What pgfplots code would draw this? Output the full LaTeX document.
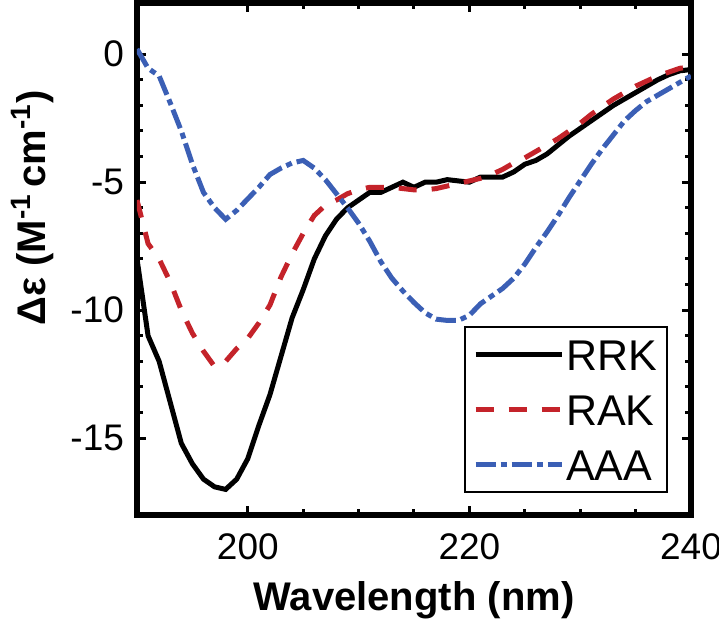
\documentclass[border=0pt]{standalone}
\usepackage{pgfplots}
\pgfplotsset{compat=1.18}
\usepackage{fontspec}
\setmainfont{Liberation Sans}
\definecolor{rakred}{HTML}{C4232A}
\definecolor{aaablue}{HTML}{3B5FB5}
\begin{document}
\begin{tikzpicture}
\begin{axis}[
    scale only axis,
    width=277pt, height=256pt,
    xmin=190, xmax=240,
    ymin=-18, ymax=2,
    xtick={200,220,240},
    ytick={-15,-10,-5,0},
    minor x tick num=3,
    minor y tick num=4,
    xtick pos=both, ytick pos=both,
    tick align=inside,
    major tick length=4.5pt,
    minor tick length=3pt,
    every tick/.style={black, line width=1.5pt},
    axis line style={line width=3pt},
    /pgf/number format/assume math mode=true,
    ticklabel style={font=\fontsize{18.5}{21}\selectfont},
    xticklabel style={yshift=-6pt},
    yticklabel style={xshift=-3pt},
    xlabel={\textbf{Wavelength (nm)}},
    ylabel={\textbf{Δε (M\textsuperscript{-1}\,cm\textsuperscript{-1})}},
    label style={font=\fontsize{20}{22}\selectfont},
    xlabel style={at={(axis description cs:0.5,-0.166)}, anchor=center},
    ylabel style={at={(axis description cs:-0.188,0.6)}, anchor=center},
    legend style={
        at={(axis description cs:0.958,0.043)}, anchor=south east,
        draw=black, line width=0.75pt, fill=white,
        font=\fontsize{21.5}{24}\selectfont,
        inner xsep=4pt, inner ysep=5pt,
        row sep=10pt,
        nodes={inner sep=1pt, text height=15.5pt, text depth=0pt},
        cells={anchor=west},
    },
    legend image code/.code={\draw (0pt,0pt) -- (43pt,0pt);},
]
\addplot[black, line width=2.5pt] coordinates {
    (190,-8.0) (191,-11.0) (192,-12.0) (193,-13.6) (194,-15.2) (195,-16.0)
    (196,-16.6) (197,-16.9) (198,-17.0) (199,-16.6) (200,-15.8) (201,-14.5)
    (202,-13.3) (203,-11.8) (204,-10.3) (205,-9.2) (206,-8.0) (207,-7.1)
    (208,-6.45) (209,-6.0) (210,-5.7) (211,-5.4) (212,-5.4) (213,-5.2)
    (214,-5.0) (215,-5.2) (216,-5.0) (217,-5.0) (218,-4.9) (219,-4.95)
    (220,-5.0) (221,-4.8) (222,-4.8) (223,-4.8) (224,-4.6) (225,-4.3)
    (226,-4.15) (227,-3.9) (228,-3.55) (229,-3.2) (230,-2.9) (231,-2.6)
    (232,-2.3) (233,-2.0) (234,-1.75) (235,-1.5) (236,-1.25) (237,-1.0)
    (238,-0.8) (239,-0.65) (240,-0.6)
};
\addlegendentry{RRK}
\addplot[rakred, line width=2.5pt, dash pattern=on 9pt off 7.5pt] coordinates {
    (190,-5.7) (191,-7.4) (192,-8.0) (193,-8.9) (194,-10.0) (195,-10.9)
    (196,-11.6) (197,-12.2) (198,-12.0) (199,-11.5) (200,-11.1) (201,-10.5)
    (202,-9.8) (203,-8.7) (204,-7.8) (205,-7.0) (206,-6.3) (207,-5.9)
    (208,-5.7) (209,-5.45) (210,-5.3) (211,-5.2) (212,-5.2) (213,-5.2)
    (214,-5.25) (215,-5.3) (216,-5.3) (217,-5.25) (218,-5.15) (219,-5.05)
    (220,-4.95) (221,-4.85) (222,-4.7) (223,-4.5) (224,-4.25) (225,-4.05)
    (226,-3.8) (227,-3.55) (228,-3.3) (229,-3.0) (230,-2.7) (231,-2.35)
    (232,-2.05) (233,-1.75) (234,-1.5) (235,-1.25) (236,-1.05) (237,-0.85)
    (238,-0.7) (239,-0.55) (240,-0.5)
};
\addlegendentry{RAK}
\addplot[aaablue, line width=2.5pt, dash pattern=on 10pt off 2.5pt on 3pt off 2.5pt] coordinates {
    (190,0.2) (191,-0.55) (192,-0.85) (193,-1.9) (194,-3.0) (195,-4.3)
    (196,-5.4) (197,-6.0) (198,-6.45) (199,-6.1) (200,-5.65) (201,-5.2)
    (202,-4.7) (203,-4.45) (204,-4.25) (205,-4.15) (206,-4.45) (207,-4.9)
    (208,-5.45) (209,-6.0) (210,-6.6) (211,-7.3) (212,-8.1) (213,-8.75)
    (214,-9.25) (215,-9.7) (216,-10.1) (217,-10.35) (218,-10.4) (219,-10.4)
    (220,-10.2) (221,-9.75) (222,-9.45) (223,-9.15) (224,-8.75) (225,-8.2)
    (226,-7.55) (227,-6.95) (228,-6.3) (229,-5.6) (230,-4.95) (231,-4.3)
    (232,-3.7) (233,-3.15) (234,-2.6) (235,-2.2) (236,-1.85) (237,-1.6)
    (238,-1.35) (239,-1.1) (240,-0.85)
};
\addlegendentry{AAA}
\end{axis}
\pgfresetboundingbox
\path (-68.5pt,-57.5pt) rectangle (291pt,257.5pt);
\end{tikzpicture}
\end{document}
